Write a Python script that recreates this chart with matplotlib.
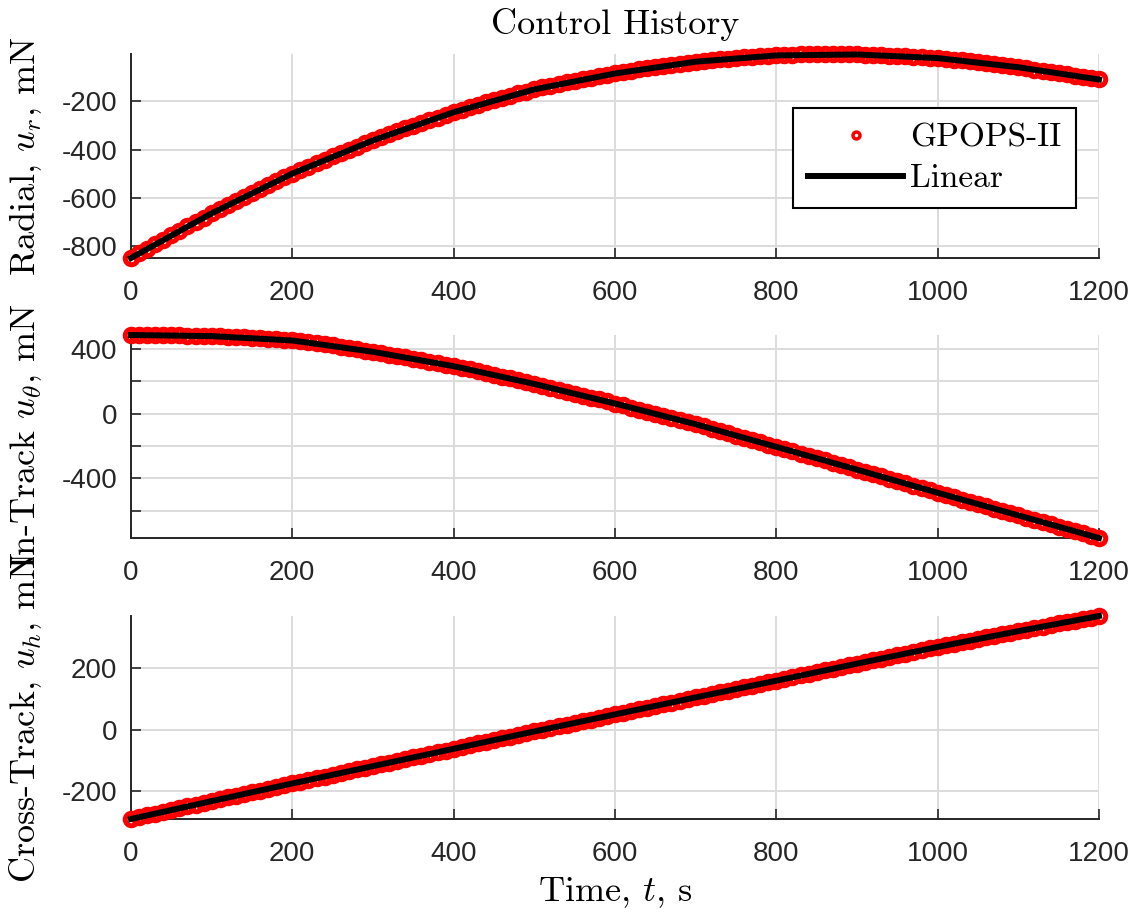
import matplotlib.pyplot as plt

plt.rcParams['font.family'] = ['Liberation Sans', 'DejaVu Sans']
plt.rcParams['mathtext.fontset'] = 'cm'
plt.rcParams['axes.unicode_minus'] = False

# GPOPS-II solution, sampled every 10 s
t_gpops = list(range(0, 1201, 10))
u_r_gpops = [-851, -831, -812, -793, -774, -755, -737, -718, -700, -683, -665,
             -648, -630, -613, -596, -580, -563, -547, -531, -516, -500,
             -485, -471, -456, -442, -428, -414, -401, -388, -375, -362,
             -349, -337, -325, -312, -301, -289, -278, -267, -256, -245,
             -235, -224, -214, -204, -195, -185, -176, -167, -159, -150,
             -142, -135, -128, -121, -114, -108, -101, -95, -90, -84,
             -78, -72, -67, -62, -57, -52, -47, -43, -39, -35,
             -31, -28, -25, -22, -19, -17, -14, -12, -11, -9,
             -8, -6, -5, -4, -3, -3, -3, -3, -4, -5,
             -6, -7, -8, -10, -11, -13, -15, -16, -18, -20,
             -23, -26, -29, -32, -36, -40, -44, -49, -53, -58,
             -63, -68, -73, -78, -83, -88, -93, -98, -104, -109]
u_th_gpops = [486, 486, 486, 485, 485, 484, 483, 482, 481, 480, 479,
              478, 476, 474, 472, 469, 466, 463, 460, 456, 452,
              447, 441, 435, 428, 421, 414, 406, 398, 390, 382,
              374, 365, 356, 347, 338, 329, 320, 311, 302, 293,
              283, 273, 262, 251, 240, 229, 218, 207, 195, 183,
              171, 159, 147, 135, 123, 111, 99, 87, 75, 62,
              50, 37, 24, 11, -2, -15, -28, -41, -54, -66,
              -80, -94, -108, -122, -136, -150, -164, -178, -192, -206,
              -220, -234, -248, -262, -276, -290, -304, -318, -332, -347,
              -361, -375, -389, -403, -418, -432, -447, -461, -476, -490,
              -504, -518, -532, -546, -560, -574, -588, -602, -616, -630,
              -644, -658, -672, -686, -700, -714, -728, -742, -756, -770]
u_h_gpops = [-289, -283, -277, -272, -266, -260, -254, -248, -243, -237, -231,
             -225, -219, -214, -208, -202, -197, -191, -185, -180, -174,
             -168, -163, -157, -152, -146, -140, -135, -129, -124, -118,
             -112, -107, -101, -96, -90, -84, -79, -73, -68, -62,
             -56, -51, -45, -40, -34, -28, -23, -17, -12, -6,
             -1, 5, 10, 16, 21, 27, 32, 38, 43, 49,
             54, 60, 65, 71, 76, 82, 87, 93, 98, 104,
             109, 115, 120, 126, 131, 136, 142, 147, 153, 158,
             164, 169, 175, 180, 186, 191, 197, 202, 208, 213,
             218, 224, 229, 235, 240, 245, 251, 256, 262, 267,
             272, 277, 282, 287, 293, 298, 303, 308, 313, 318,
             323, 328, 333, 338, 343, 347, 352, 357, 362, 367]

# linear-model control history
t_lin = [0, 100, 200, 300, 400, 500, 600, 700, 800, 900, 1000, 1100, 1200]
u_r_lin = [-851, -665, -500, -362, -245, -150, -84, -35, -9, -5, -20, -58, -109]
u_th_lin = [486, 479, 452, 382, 293, 183, 62, -66, -206, -347, -490, -630, -770]
u_h_lin = [-289, -231, -174, -118, -62, -6, 49, 104, 158, 213, 267, 318, 367]

ylabels = ['Radial, $u_r$, mN', 'In-Track $u_\\theta$, mN', 'Cross-Track, $u_h$, mN']
yticks = [[-800, -600, -400, -200],
          [-600, -400, -200, 0, 200, 400],
          [-200, 0, 200]]
ytick_labels = [['-800', '-600', '-400', '-200'],
                ['', '-400', '', '0', '', '400'],
                ['-200', '0', '200']]
xticks = [0, 200, 400, 600, 800, 1000, 1200]

serif = 'cmr10'
axis_col = '#262626'

fig = plt.figure(figsize=(11.36, 9.15), dpi=100)
positions = [(0.1153, 0.7180, 0.8521, 0.2230),
             (0.1153, 0.4120, 0.8521, 0.2219),
             (0.1153, 0.1049, 0.8521, 0.2219)]

data = [(u_r_gpops, u_r_lin), (u_th_gpops, u_th_lin), (u_h_gpops, u_h_lin)]
axes = []
for i, (pos, (pts, lin)) in enumerate(zip(positions, data)):
    ax = fig.add_axes(pos)
    ax.plot(t_gpops, pts, 'o', ms=9, mfc='none', mec='red', mew=3.6,
            clip_on=False, zorder=3, label='GPOPS-II')
    ax.plot(t_lin, lin, '-', color='black', lw=4.3,
            clip_on=False, zorder=4, label='Linear')
    ax.set_xlim(0, 1200)
    ax.set_ylim(min(pts), max(pts))
    ax.set_xticks(xticks)
    ax.set_yticks(yticks[i])
    ax.set_yticklabels(ytick_labels[i])
    ax.grid(True, color='#dcdcdc', lw=1.4)
    ax.set_axisbelow(True)
    for s in ['top', 'right']:
        ax.spines[s].set_visible(False)
    for s in ['left', 'bottom']:
        ax.spines[s].set_color(axis_col)
        ax.spines[s].set_linewidth(1.4)
    ax.tick_params(direction='in', length=7.5, width=1.2, colors=axis_col,
                   labelsize=20)
    ax.tick_params(axis='x', pad=16)
    ax.tick_params(axis='y', pad=10)
    ax.set_ylabel(ylabels[i], family=serif, size=26)
    ax.yaxis.set_label_coords(-0.09, 0.5)
    axes.append(ax)

leg = axes[0].legend(loc='upper left', bbox_to_anchor=(0.684, 0.735),
                     prop={'family': serif, 'size': 24}, frameon=True,
                     fancybox=False, edgecolor='black', framealpha=1,
                     handlelength=2.85, handletextpad=0.2, borderpad=0.45,
                     labelspacing=0.35, borderaxespad=0)
leg.get_frame().set_linewidth(1.5)
leg.legend_handles[0].set_markersize(5)
leg.legend_handles[0].set_markeredgewidth(2.5)

fig.text(0.5414, 0.9727, 'Control History', ha='center', va='center',
         family=serif, size=26)
fig.text(0.5414, 0.0245, 'Time, $t$, s', ha='center', va='center',
         family=serif, size=26)

fig.savefig('out.png', dpi=100)
